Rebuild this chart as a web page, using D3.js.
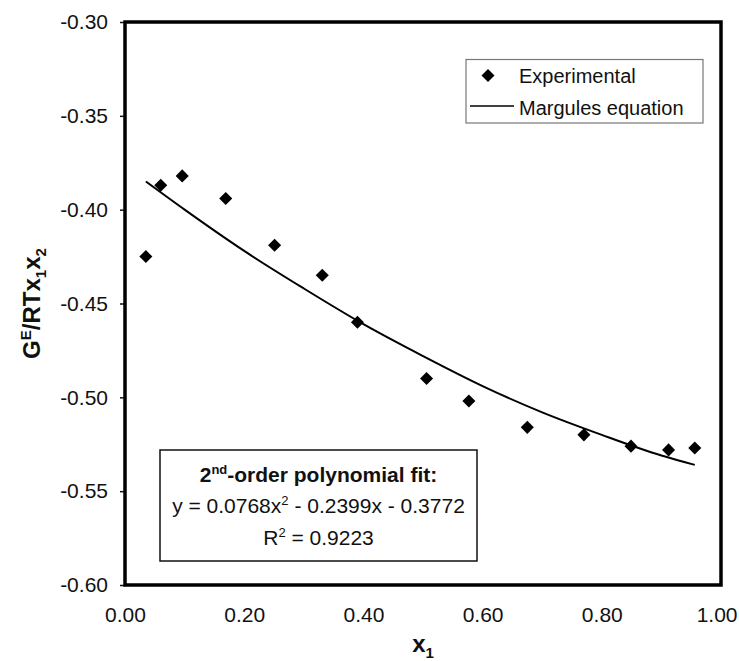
<!DOCTYPE html>
<html>
<head>
<meta charset="utf-8">
<script src="https://cdn.jsdelivr.net/npm/d3@7"></script>
<style>
  body { margin: 0; background: #fff; }
  text { font-family: "Liberation Sans", Arial, sans-serif; fill: #111; }
</style>
</head>
<body>
<script>
// experimental points
var expX = [0.035, 0.060, 0.096, 0.169, 0.251, 0.331, 0.390, 0.506, 0.577, 0.675, 0.770, 0.849, 0.912, 0.956];
var expY = [-0.425, -0.387, -0.382, -0.394, -0.419, -0.435, -0.460, -0.490, -0.502, -0.516, -0.520, -0.526, -0.528, -0.527];

// Margules curve
var margX = [0.035, 0.10, 0.20, 0.30, 0.40, 0.50, 0.60, 0.70, 0.80, 0.90, 0.956];
var margY = [-0.385, -0.400, -0.422, -0.442, -0.461, -0.478, -0.494, -0.508, -0.520, -0.531, -0.536];

var xTicks = [0, 0.2, 0.4, 0.6, 0.8, 1.0];
var yTicks = [-0.30, -0.35, -0.40, -0.45, -0.50, -0.55, -0.60];

chart();

function chart()
{
        var width = 739,
                height = 661;

        var svg = d3.select("body").append("svg")
                .attr("width", width)
                .attr("height", height);

        var xScale = d3.scaleLinear()
                .domain([0, 1])
                .range([125, 721]);
        var yScale = d3.scaleLinear()
                .domain([-0.60, -0.30])
                .range([585, 22]);

        var fmt = function (d) { return d.toFixed(2); };

        var xAxis = d3.axisBottom(xScale).tickValues(xTicks).tickSize(0).tickPadding(22).tickFormat(fmt);
        var yAxis = d3.axisLeft(yScale).tickValues(yTicks).tickSize(5).tickPadding(12).tickFormat(fmt);

        var gx = svg.append("g")
                .attr("class", "x axis")
                .attr("transform", "translate(0," + yScale(-0.60) + ")")
                .call(xAxis);
        var gy = svg.append("g")
                .attr("class", "y axis")
                .attr("transform", "translate(" + xScale(0) + ",0)")
                .call(yAxis);

        [gx, gy].forEach(function (g) {
                g.select(".domain").remove();
                g.selectAll("text")
                        .style("font-family", "'Liberation Sans', Arial, sans-serif")
                        .style("font-size", "21px")
                        .attr("fill", "#222");
                g.selectAll("line").attr("stroke", "#111").attr("stroke-width", 1.5);
        });
        // keep the last x label inside the page
        gx.selectAll("text").filter(function (d) { return d === 1; })
                .attr("text-anchor", "end")
                .attr("dx", 737 - xScale(1));

        // plot frame
        svg.append("rect")
                .attr("x", xScale(0))
                .attr("y", yScale(-0.30))
                .attr("width", xScale(1) - xScale(0))
                .attr("height", yScale(-0.60) - yScale(-0.30))
                .attr("fill", "none")
                .attr("stroke", "#000")
                .attr("stroke-width", 3.5);

        // Margules line
        var line = d3.line()
                .x(function (d, i) { return xScale(margX[i]); })
                .y(function (d) { return yScale(d); })
                .curve(d3.curveMonotoneX);

        svg.append("path")
                .datum(margY)
                .attr("d", line)
                .attr("fill", "none")
                .attr("stroke", "#000")
                .attr("stroke-width", 2);

        // experimental diamonds
        var diamond = d3.symbol().type(d3.symbolSquare).size(85);

        svg.selectAll(".dot")
                .data(expX)
                .enter()
                .append("path")
                .attr("class", "dot")
                .attr("d", diamond)
                .attr("fill", "#000")
                .attr("transform", function (d, index)
                {
                    return "translate(" + xScale(d) + "," + yScale(expY[index]) + ") rotate(45)";
                });

        // legend
        var leg = svg.append("g");
        leg.append("rect")
                .attr("x", 466).attr("y", 59.5)
                .attr("width", 237).attr("height", 63.5)
                .attr("fill", "#fff")
                .attr("stroke", "#777")
                .attr("stroke-width", 1.2);
        leg.append("path")
                .attr("d", diamond)
                .attr("transform", "translate(488,75.5) rotate(45)")
                .attr("fill", "#000");
        leg.append("text")
                .attr("x", 519).attr("y", 83)
                .style("font-size", "20px")
                .text("Experimental");
        leg.append("line")
                .attr("x1", 470).attr("x2", 514)
                .attr("y1", 106).attr("y2", 106)
                .attr("stroke", "#000")
                .attr("stroke-width", 1.5);
        leg.append("text")
                .attr("x", 519).attr("y", 115)
                .style("font-size", "20px")
                .text("Margules equation");

        // fit text box
        var box = svg.append("g");
        box.append("rect")
                .attr("x", 160).attr("y", 450)
                .attr("width", 317).attr("height", 111)
                .attr("fill", "#fff")
                .attr("stroke", "#111")
                .attr("stroke-width", 1.5);

        var cx = 318.5;
        var t1 = box.append("text")
                .attr("x", cx).attr("y", 482)
                .attr("text-anchor", "middle")
                .style("font-size", "21px")
                .style("font-weight", "bold");
        t1.append("tspan").text("2");
        t1.append("tspan").attr("dy", -8).style("font-size", "13px").text("nd");
        t1.append("tspan").attr("dy", 8).text("-order polynomial fit:");

        var t2 = box.append("text")
                .attr("x", cx).attr("y", 513)
                .attr("text-anchor", "middle")
                .style("font-size", "21px");
        t2.append("tspan").text("y = 0.0768x");
        t2.append("tspan").attr("dy", -8).style("font-size", "13px").text("2");
        t2.append("tspan").attr("dy", 8).text(" - 0.2399x - 0.3772");

        var t3 = box.append("text")
                .attr("x", cx).attr("y", 545)
                .attr("text-anchor", "middle")
                .style("font-size", "21px");
        t3.append("tspan").text("R");
        t3.append("tspan").attr("dy", -8).style("font-size", "13px").text("2");
        t3.append("tspan").attr("dy", 8).text(" = 0.9223");

        // axis titles
        var xt = svg.append("text")
                .attr("x", (xScale(0) + xScale(1)) / 2)
                .attr("y", 652)
                .attr("text-anchor", "middle")
                .style("font-size", "24px")
                .style("font-weight", "bold");
        xt.append("tspan").text("x");
        xt.append("tspan").attr("dy", 6).style("font-size", "15px").text("1");

        var yt = svg.append("text")
                .attr("transform", "translate(40," + yScale(-0.45) + ") rotate(-90)")
                .attr("text-anchor", "middle")
                .style("font-size", "24px")
                .style("font-weight", "bold");
        yt.append("tspan").text("G");
        yt.append("tspan").attr("dy", -9).style("font-size", "15px").text("E");
        yt.append("tspan").attr("dy", 9).text("/RTx");
        yt.append("tspan").attr("dy", 6).style("font-size", "15px").text("1");
        yt.append("tspan").attr("dy", -6).text("x");
        yt.append("tspan").attr("dy", 6).style("font-size", "15px").text("2");
}
</script>
</body>
</html>
